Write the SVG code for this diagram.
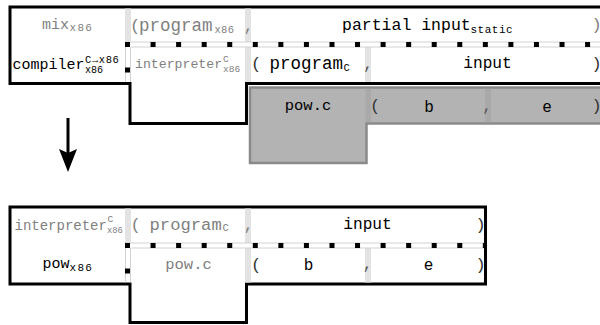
<svg xmlns="http://www.w3.org/2000/svg" width="600" height="325" viewBox="0 0 600 325" font-size="16">
<defs>
<style>
text{font-family:"Liberation Mono","DejaVu Sans Mono",monospace;fill:#000}
.g{fill:#808080}
.k{fill:#333}
.c{fill:#555}
.m{text-anchor:middle}
.sep{fill:#e3e3e3}
.gsep{fill:#a9a9a9}
.edge{stroke:#d2d2d2;stroke-width:1;fill:none}
.dash{stroke:#000;stroke-width:5;stroke-dasharray:5 20.56;fill:none}
.outline{fill:#fff;stroke:#000;stroke-width:3;stroke-linejoin:miter}
.graybox{fill:#b3b3b3;stroke:#8a8a8a;stroke-width:2.5}
</style>
<marker id="ah" markerUnits="userSpaceOnUse" markerWidth="24" markerHeight="20" viewBox="0 0 24 20" refX="4" refY="10" orient="auto">
<path d="M0,1 L23,10 L0,19 L4,10 Z" fill="#000"/>
</marker>
</defs>
<rect width="600" height="325" fill="#fff"/>

<g id="before">
<path class="outline" d="M10,7 H606 V83.5 H246.5 V123.5 H130 V83.5 H10 Z"/>
<rect class="sep" x="125" y="8.5" width="6" height="33.5"/>
<rect class="sep" x="245" y="8.5" width="6" height="33.5"/>
<rect class="sep" x="245" y="47" width="6" height="35"/>
<rect class="sep" x="365" y="47" width="6" height="35"/>
<path class="edge" d="M125,42 H600 M131,47 H600 M125.5,47 V82 M130.5,47 V82"/>
<path class="dash" d="M125,44.5 H600 M127.5,42 V82"/>

<g id="mix">
<text class="g" x="42" y="28.5" font-size="15">mix</text>
<text class="g" x="69.5" y="30.5" font-size="11" letter-spacing="1.3">x86</text>
<text class="g m" x="135" y="31" font-size="17">(</text>
<text class="g" x="139" y="31" font-size="17.5">program</text>
<text class="g" x="214.5" y="33" font-size="10.5" letter-spacing="0.3">x86</text>
<text class="g m" x="248.5" y="31">,</text>
<text x="342" y="29.5" font-size="16.5">partial input</text>
<text x="470.5" y="32.5" font-size="11" letter-spacing="0.5">static</text>
<text class="g m" x="596.5" y="30" font-size="17">)</text>
</g>

<g id="compiler">
<text x="12.5" y="69" font-size="15">compiler</text>
<text x="85" y="62.5" font-size="10.5" letter-spacing="0.6">C→x86</text>
<text x="85" y="72.5" font-size="10">x86</text>
</g>

<g id="interpreter">
<text class="g" x="135" y="68" font-size="13.2">interpreter</text>
<text class="g" x="223" y="61.5" font-size="9.5">C</text>
<text class="g" x="223" y="71.5" font-size="9.5">x86</text>
</g>

<g id="program-input">
<text class="k m" x="256" y="69" font-size="17">(</text>
<text x="269.5" y="68.5" font-size="17.5">program</text>
<text x="343.5" y="70.5" font-size="10.5">C</text>
<text class="c m" x="368" y="69">,</text>
<text class="m" x="487.5" y="68" font-size="16.2">input</text>
<text class="k m" x="596.5" y="69" font-size="17">)</text>
</g>

<g id="pow-source">
<path class="graybox" d="M250,87.5 H606 V123.5 H366.5 V163 H250 Z"/>
<rect class="gsep" x="365.5" y="88.75" width="5.5" height="33.5"/>
<rect class="gsep" x="485" y="88.75" width="6" height="33.5"/>
<text class="m" x="308" y="109.5" font-size="15.5">pow.c</text>
<text class="k m" x="375" y="110.5" font-size="17">(</text>
<text class="m" x="429" y="111.5">b</text>
<text class="c m" x="487" y="110.5">,</text>
<text class="m" x="547" y="111.5">e</text>
<text class="k m" x="596.5" y="110.5" font-size="17">)</text>
</g>
</g>

<g id="after">
<path class="outline" d="M10,207 H485.5 V284 H246.5 V322.5 H130 V284 H10 Z"/>
<rect class="sep" x="125" y="208.5" width="6" height="34.5"/>
<rect class="sep" x="245" y="208.5" width="6" height="34.5"/>
<rect class="sep" x="245" y="248" width="6" height="34.5"/>
<rect class="sep" x="365" y="248" width="6" height="34.5"/>
<path class="edge" d="M125,243 H484 M131,248 H484 M125.5,248 V282.5 M130.5,248 V282.5"/>
<path class="dash" d="M125,245.5 H487 M127.5,243 V282.5"/>

<g id="interpreter-after">
<text class="g" x="14.5" y="229.5" font-size="14">interpreter</text>
<text class="g" x="107.5" y="221.5" font-size="9.5">C</text>
<text class="g" x="107" y="232.5" font-size="8.8">x86</text>
<text class="g m" x="135.5" y="230" font-size="17">(</text>
<text class="g" x="149.5" y="229.5" font-size="17.2">program</text>
<text class="g" x="222.5" y="231" font-size="10.5">C</text>
<text class="g m" x="248.5" y="229.5">,</text>
<text class="m" x="367.5" y="229" font-size="16.2">input</text>
<text class="k m" x="480.5" y="230" font-size="17">)</text>
</g>

<g id="pow-x86">
<text x="42.5" y="268" font-size="15">pow</text>
<text x="69.5" y="271" font-size="11" letter-spacing="1.3">x86</text>
</g>

<g id="pow-c">
<text class="g m" x="188.5" y="268.5" font-size="15.5">pow.c</text>
</g>

<g id="args">
<text class="k m" x="256" y="270" font-size="17">(</text>
<text class="m" x="308.5" y="270">b</text>
<text class="c m" x="367.5" y="269">,</text>
<text class="m" x="428.5" y="270">e</text>
<text class="k m" x="480.5" y="270" font-size="17">)</text>
</g>
</g>

<g id="connectors">
<line x1="68" y1="118" x2="68" y2="153" stroke="#000" stroke-width="3" marker-end="url(#ah)"/>
</g>
</svg>
